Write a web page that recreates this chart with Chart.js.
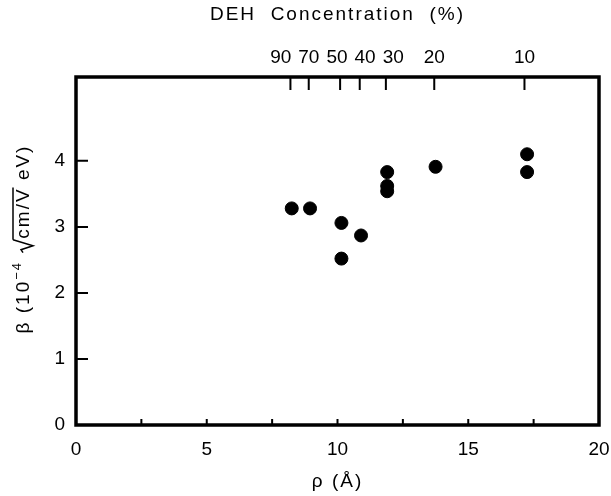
<!DOCTYPE html>
<html>
<head>
<meta charset="utf-8">
<script src="https://cdn.jsdelivr.net/npm/chart.js@4.4.1/dist/chart.umd.min.js"></script>
<style>
  html, body { margin: 0; padding: 0; background: #fff; }
  #wrap { width: 611px; height: 496px; }
</style>
</head>
<body>
<div id="wrap"><canvas id="myChartBeta"></canvas></div>
<script>
// data
const rhoValues = [8.25, 8.95, 10.15, 10.15, 10.9, 11.9, 11.9, 11.9, 13.75, 17.25, 17.25];
const betaValues = [3.28, 3.28, 3.06, 2.52, 2.87, 3.83, 3.62, 3.54, 3.91, 4.10, 3.83];
const concPositions = [8.2, 8.9, 10.1, 10.85, 11.85, 13.7, 17.15];
const concLabels = ['90', '70', '50', '40', '30', '20', '10'];
const yTickValues = [0, 1, 2, 3, 4];
const xLabelValues = [0, 5, 10, 15, 20];
const xTitle = '\u03C1 (\u00C5)';
const topTitle = 'DEH  Concentration  (%)';

const FONT = "'Liberation Sans', Arial, sans-serif";
const TITLE_SPACING = '2px';

// fixed box sizes so the plot frame lands where the original one is
function fixBox(size) {
  return (scale) => {
    if (scale.isHorizontal()) scale.height = size;
    else scale.width = size;
    scale.paddingLeft = 0;
    scale.paddingRight = 0;
    scale.paddingTop = 0;
    scale.paddingBottom = 0;
  };
}

const frameTicks = {
  id: 'frameTicks',
  afterDraw(chart) {
    const { ctx, chartArea: { left, right, top, bottom }, scales } = chart;
    ctx.save();
    ctx.strokeStyle = '#000';
    ctx.fillStyle = '#000';
    ctx.lineWidth = 2;
    ctx.lineCap = 'butt';

    // inward tick marks
    ctx.beginPath();
    scales.x.ticks.forEach((t) => {
      const px = scales.x.getPixelForValue(t.value);
      ctx.moveTo(px, bottom);
      ctx.lineTo(px, bottom - 6);
    });
    scales.y.ticks.forEach((t) => {
      if (t.value === 0) return;
      const py = scales.y.getPixelForValue(t.value);
      ctx.moveTo(left, py);
      ctx.lineTo(left + 12, py);
    });
    scales.x2.ticks.forEach((t) => {
      const px = scales.x2.getPixelForValue(t.value);
      ctx.moveTo(px, top);
      ctx.lineTo(px, top + 13);
    });
    ctx.stroke();

    // frame
    ctx.lineWidth = 3.5;
    ctx.strokeRect(left, top, right - left, bottom - top);

    // top concentration labels, pushed apart where they crowd
    ctx.font = `19px ${FONT}`;
    ctx.textAlign = 'center';
    ctx.textBaseline = 'middle';
    const centers = scales.x2.ticks.map((t) => scales.x2.getPixelForValue(t.value));
    const widths = concLabels.map((s) => ctx.measureText(s).width);
    for (let k = 0; k < 60; k++) {
      for (let i = 1; i < centers.length; i++) {
        const need = (widths[i - 1] + widths[i]) / 2 + 7;
        const d = centers[i] - centers[i - 1];
        if (d < need) {
          const s = (need - d) / 2;
          centers[i - 1] -= s;
          centers[i] += s;
        }
      }
    }
    concLabels.forEach((s, i) => ctx.fillText(s, centers[i], top - 19));

    // axis titles (spaced lettering)
    ctx.letterSpacing = TITLE_SPACING;
    const midX = (left + right) / 2;
    ctx.fillText(topTitle, midX, top - 62);
    ctx.fillText(xTitle, midX, bottom + 57);

    // y title with radical sign
    ctx.translate(29, (top + bottom) / 2 - 12);
    ctx.rotate(-Math.PI / 2);
    ctx.textAlign = 'left';
    ctx.textBaseline = 'alphabetic';
    const big = `19px ${FONT}`;
    const small = `13px ${FONT}`;
    const parts = [
      { t: '\u03B2 (10', f: big, dy: 0 },
      { t: '\u22124', f: small, dy: -8 },
      { t: ' ', f: big, dy: 0 },
      { t: 'RAD', f: big, dy: 0 },
      { t: 'cm/V', f: big, dy: 0, bar: true },
      { t: ' eV)', f: big, dy: 0 },
    ];
    let total = 0;
    parts.forEach((p) => {
      ctx.font = p.f;
      p.w = p.t === 'RAD' ? 15 : ctx.measureText(p.t).width;
      total += p.w;
    });
    let x = -total / 2;
    ctx.lineWidth = 1.5;
    parts.forEach((p) => {
      if (p.t === 'RAD') {
        ctx.beginPath();
        ctx.moveTo(x + 1, -6);
        ctx.lineTo(x + 4, -8);
        ctx.lineTo(x + 8, 4);
        ctx.lineTo(x + 14, -16);
        ctx.stroke();
      } else {
        ctx.font = p.f;
        ctx.fillText(p.t, x, p.dy);
        if (p.bar) {
          ctx.beginPath();
          ctx.moveTo(x - 1, -16);
          ctx.lineTo(x + p.w, -16);
          ctx.stroke();
        }
      }
      x += p.w;
    });
    ctx.restore();
  },
};

function chartBetaInit() {
  const ctx = document.getElementById('myChartBeta');
  if (!ctx) return;

  Chart.defaults.font.family = FONT;
  Chart.defaults.font.size = 19;
  Chart.defaults.color = '#000';

  new Chart(ctx, {
    type: 'scatter',
    data: {
      datasets: [
        {
          label: 'beta',
          data: rhoValues.map((r, i) => ({ x: r, y: betaValues[i] })),
          backgroundColor: '#000',
          borderColor: '#000',
          pointRadius: 6.5,
          pointHoverRadius: 6.5,
        },
      ],
    },
    options: {
      responsive: true,
      maintainAspectRatio: false,
      animation: false,
      layout: { padding: 0 },
      scales: {
        x: {
          type: 'linear',
          position: 'bottom',
          min: 0,
          max: 20,
          afterFit: fixBox(71),
          grid: { display: false, drawTicks: false },
          border: { display: false },
          ticks: {
            stepSize: 2.5,
            autoSkip: false,
            maxRotation: 0,
            padding: 13,
            callback: (value) => (xLabelValues.includes(value) ? `${value}` : ''),
          },
        },
        x2: {
          type: 'linear',
          position: 'top',
          min: 0,
          max: 20,
          afterBuildTicks: (scale) => {
            scale.ticks = concPositions.map((v) => ({ value: v }));
          },
          afterFit: fixBox(77),
          grid: { display: false, drawTicks: false },
          border: { display: false },
          ticks: { display: false },
        },
        y: {
          type: 'linear',
          min: 0,
          max: 5.27,
          afterBuildTicks: (scale) => {
            scale.ticks = yTickValues.map((v) => ({ value: v }));
          },
          afterFit: fixBox(76),
          grid: { display: false, drawTicks: false },
          border: { display: false },
          ticks: { padding: 11 },
        },
        y2: {
          type: 'linear',
          position: 'right',
          min: 0,
          max: 5.27,
          afterFit: fixBox(12),
          grid: { display: false, drawTicks: false },
          border: { display: false },
          ticks: { display: false },
        },
      },
      plugins: {
        legend: { display: false },
        tooltip: { enabled: false },
      },
    },
    plugins: [frameTicks],
  });
}

chartBetaInit();
</script>
</body>
</html>
